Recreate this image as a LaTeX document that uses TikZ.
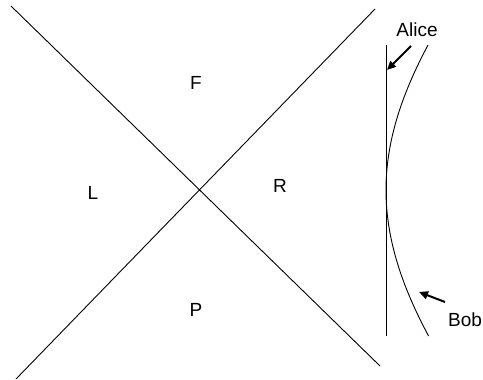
\documentclass[tikz,border=0pt]{standalone}
\usepackage{fontspec}
\setmainfont{Liberation Sans}
\usetikzlibrary{arrows.meta}
\begin{document}
\begin{tikzpicture}[x=1pt,y=-1pt,
  thinline/.style={line width=0.9pt, black},
  pointer/.style={line width=2pt, -{Triangle[length=9pt,width=8pt]}},
  lbl/.style={font=\fontsize{19}{22}\selectfont, inner sep=0pt}]
\useasboundingbox (0,0) rectangle (483,380);
% light cone lines
\coordinate (a1) at (11,6);
\coordinate (a2) at (380,366);
\coordinate (b1) at (16,379);
\coordinate (b2) at (375,9);
\draw[thinline] (a1) -- (a2);
\draw[thinline] (b1) -- (b2);
% region labels
\node[lbl] (F) at (196,83) {F};
\node[lbl] (L) at (93,193) {L};
\node[lbl] (R) at (280,186) {R};
\node[lbl] (P) at (196,310) {P};
% Alice worldline
\coordinate (v1) at (386,45);
\coordinate (v2) at (386,336);
\draw[thinline] (v1) -- (v2);
% Bob hyperbola
\draw[thinline] plot[domain=-145:146, samples=80, smooth] ({157+229*sqrt(1+(\x/229)*(\x/229))}, {190+\x});
% labels and pointers
\node[lbl] (alice) at (417,30) {Alice};
\node[lbl] (bob) at (465,320) {Bob};
\coordinate (at) at (411,46);
\coordinate (ah) at (387,70);
\coordinate (bt) at (445,302);
\coordinate (bh) at (419,292);
\draw[pointer] (at) -- (ah);
\draw[pointer] (bt) -- (bh);
\end{tikzpicture}
\end{document}
